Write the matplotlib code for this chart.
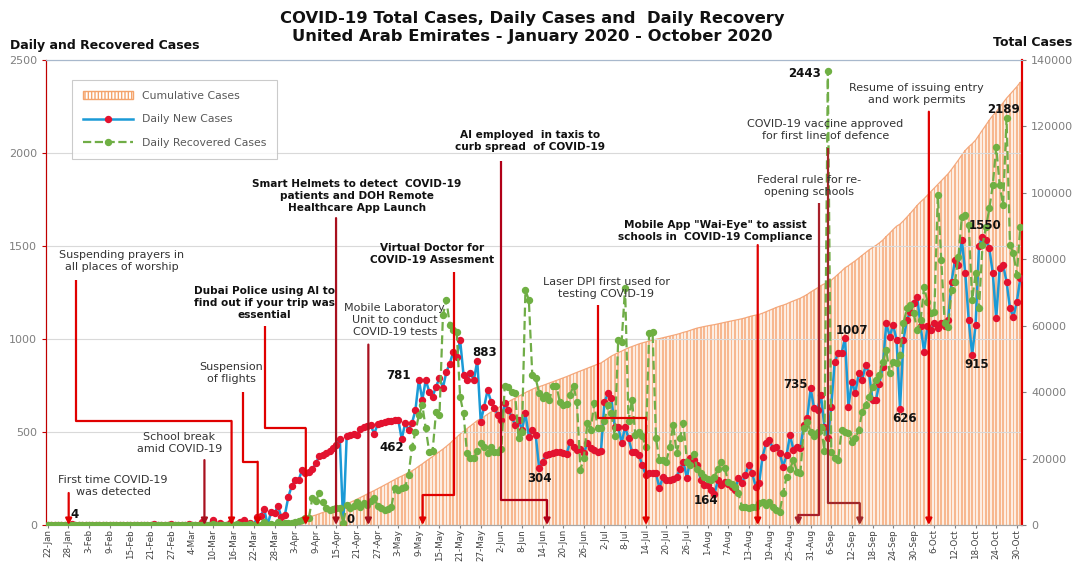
import numpy as np
import pandas as pd
import matplotlib
matplotlib.use("Agg")
import matplotlib.pyplot as plt
from matplotlib.patches import Patch
from matplotlib.lines import Line2D

# daily new cases, 22-Jan .. 31-Oct 2020 (one list per month)
new_jan = [0, 0, 0, 0, 0, 0, 0, 4, 0, 1]
new_feb = [0, 0, 0, 0, 0, 0, 0, 2, 0, 1, 0, 0, 0, 0, 1, 0, 0, 0, 0, 0,
           0, 4, 0, 0, 0, 0, 6, 0, 2]
new_mar = [0, 0, 6, 0, 0, 0, 16, 0, 0, 29, 0, 11, 0, 0, 13, 0, 0, 15, 27, 0,
           13, 0, 45, 50, 85, 0, 72, 63, 102, 41, 53]
new_apr = [150, 210, 240, 241, 294, 277, 283, 300, 331, 370, 376, 387, 398, 412, 432,
           460, 0, 479, 484, 490, 483, 518, 525, 532, 536, 490, 541, 549, 552, 557]
new_may = [561, 564, 567, 462, 546, 511, 548, 618, 781, 672, 780, 717, 690, 744, 790,
           737, 823, 868, 932, 905, 994, 806, 780, 816, 780, 883, 556, 636, 726, 663, 627]
new_jun = [591, 564, 654, 618, 582, 538, 565, 511, 600, 475, 511, 484, 304, 340, 376,
           380, 388, 390, 392, 388, 382, 448, 421, 403, 410, 385, 439, 412, 405, 394]
new_jul = [400, 662, 707, 681, 529, 529, 439, 529, 466, 394, 394, 376, 323, 269, 278,
           278, 278, 197, 260, 242, 242, 245, 260, 300, 340, 251, 358, 350, 323, 242, 215]
new_aug = [215, 188, 164, 242, 215, 233, 220, 206, 188, 251, 224, 270, 323, 278, 206,
           224, 367, 439, 457, 412, 421, 385, 314, 376, 484, 403, 421, 412, 538, 573, 735]
new_sep = [627, 618, 699, 528, 466, 636, 878, 923, 923, 1007, 636, 771, 708, 816, 780,
           860, 816, 672, 672, 760, 851, 1085, 1013, 1076, 995, 626, 995, 1102, 1147, 1192]
new_oct = [1228, 1068, 932, 1068, 1049, 1085, 1058, 1085, 1068, 1100, 1308, 1425, 1398,
           1533, 1353, 1100, 915, 1076, 1500, 1550, 1530, 1487, 1353, 1111, 1380, 1398,
           1308, 1165, 1120, 1200, 1326]

# daily recovered cases
rec_jan = [0] * 10
rec_feb = [0, 0, 0, 0, 0, 0, 0, 0, 1, 0, 0, 0, 0, 0, 2, 0, 0, 0, 0, 0,
           0, 0, 0, 0, 0, 0, 0, 0, 0]
rec_mar = [0, 0, 0, 0, 0, 0, 0, 0, 0, 3, 0, 0, 0, 2, 0, 0, 5, 0, 0, 0,
           7, 0, 0, 0, 15, 0, 6, 0, 14, 5, 10]
rec_apr = [10, 12, 15, 20, 25, 35, 40, 145, 129, 170, 124, 91, 81, 85, 91,
           90, 11, 107, 91, 100, 124, 97, 118, 110, 130, 145, 100, 90, 81, 88]
rec_may = [97, 199, 188, 199, 204, 270, 420, 500, 591, 645, 520, 394, 400, 609, 591,
           1129, 1210, 1075, 1048, 1040, 690, 600, 385, 358, 358, 400, 440, 421, 385, 421, 394]
rec_jun = [394, 410, 749, 740, 717, 708, 466, 502, 1263, 1210, 807, 788, 708, 681, 700,
           672, 749, 749, 663, 645, 650, 700, 749, 660, 296, 358, 547, 511, 654, 520]
rec_jul = [520, 560, 645, 600, 480, 995, 986, 1274, 559, 672, 484, 500, 478, 420, 1030,
           1039, 466, 349, 349, 340, 420, 540, 385, 470, 547, 340, 323, 380, 300, 278, 260]
rec_aug = [250, 242, 260, 300, 340, 305, 233, 220, 206, 170, 98, 95, 89, 95, 98,
           116, 125, 107, 125, 98, 80, 72, 170, 260, 300, 350, 287, 278, 519, 556, 500]
rec_sep = [480, 500, 528, 400, 2443, 394, 358, 349, 511, 502, 493, 448, 466, 511, 609,
           645, 690, 740, 780, 806, 878, 941, 816, 878, 869, 914, 1084, 1164, 1182, 1138]
rec_oct = [1048, 1100, 1281, 1200, 1138, 1147, 1774, 1425, 1084, 1066, 1263, 1308, 1443,
           1658, 1667, 1613, 1210, 1353, 1165, 1505, 1600, 1702, 1828, 2033, 1828, 1720,
           2189, 1505, 1461, 1344, 1604]

new_cases = np.array(new_jan + new_feb + new_mar + new_apr + new_may + new_jun
                     + new_jul + new_aug + new_sep + new_oct)
recovered = np.array(rec_jan + rec_feb + rec_mar + rec_apr + rec_may + rec_jun
                     + rec_jul + rec_aug + rec_sep + rec_oct)
total_cases = np.cumsum(new_cases)

days = np.arange(len(new_cases))
dates = pd.date_range("2020-01-22", periods=len(days), freq="D")
tick_pos = days[::6]
tick_labels = [f"{d.day}-{d:%b}" for d in dates[::6]]

# (text, bold, text x, text y, path of the red pointer, colour)
events = [
    ("First time COVID-19\nwas detected", False, 19, 210, [(6.1, 172), (6.1, 0)], "#e00000"),
    ("School break\namid COVID-19", False, 38.3, 441, [(45.6, 349), (45.6, 0)], "#a8101e"),
    ("Suspending prayers in\nall places of worship", False, 21.5, 1417,
     [(8.3, 1317), (8.3, 559), (53.5, 559), (53.5, 0)], "#e00000"),
    ("Suspension\nof flights", False, 53.4, 817,
     [(56.7, 717), (56.7, 340), (61.1, 340), (61.1, 0)], "#e00000"),
    ("Dubai Police using AI to\nfind out if your trip was\nessential", True, 63, 1191,
     [(63.3, 1070), (63.3, 520), (75.1, 520), (75.1, 0)], "#e00000"),
    ("Smart Helmets to detect  COVID-19\npatients and DOH Remote\nHealthcare App Launch", True,
     90, 1769, [(83.9, 1650), (83.9, 0)], "#a8101e"),
    ("Mobile Laboratory\nUnit to conduct\nCOVID-19 tests", False, 101, 1102,
     [(93.3, 970), (93.3, 0)], "#a8101e"),
    ("Virtual Doctor for\nCOVID-19 Assesment", True, 111.8, 1457,
     [(118.2, 1362), (118.2, 161), (109.1, 161), (109.1, 0)], "#e00000"),
    ("AI employed  in taxis to\ncurb spread  of COVID-19", True, 140.3, 2063,
     [(132, 1958), (132, 134), (145.3, 134), (145.3, 0)], "#b00018"),
    ("Laser DPI first used for\ntesting COVID-19", False, 162.5, 1274,
     [(160.1, 1183), (160.1, 577), (174.1, 577), (174.1, 0)], "#e00000"),
    ("Mobile App \"Wai-Eye\" to assist\nschools in  COVID-19 Compliance", True, 194.2, 1581,
     [(206.6, 1505), (206.6, 0)], "#e00000"),
    ("Federal rule for re-\nopening schools", False, 221.6, 1823,
     [(224.4, 1731), (224.4, 54), (218.4, 54), (218.4, 0)], "#a8202a"),
    ("COVID-19 vaccine approved\nfor first line of defence", False, 226.3, 2122,
     [(227.1, 2025), (227.1, 117), (236.3, 117), (236.3, 0)], "#a0282a"),
    ("Resume of issuing entry\nand work permits", False, 252.8, 2319,
     [(256.4, 2222), (256.4, 0)], "#e00000"),
]

# value labels: (day index, offset in points)
new_labels = [(7, (2, 7)), (86, (5, 4)), (103, (-7, -6)), (108, (-15, 3)), (125, (5, 6)),
              (143, (0, -7)), (194, (-6, -4)), (222, (-11, 3)), (232, (5, 5)),
              (248, (3, -7)), (269, (3, -7)), (272, (2, 8))]
rec_labels = [(227, (-17, -2)), (279, (-2, 6))]

plt.rcParams["hatch.linewidth"] = 1.0
fig = plt.figure(figsize=(10.81, 5.64), dpi=100)
ax1 = fig.add_axes([46 / 1081, 39 / 564, 976 / 1081, 465 / 564])
ax2 = ax1.twinx()
ax1.set_zorder(ax2.get_zorder() + 1)
ax1.patch.set_visible(False)

# cumulative cases as striped columns on the right axis
ax2.fill_between(days, total_cases, color="#fdeee3", linewidth=0, zorder=0)
ax2.bar(days, total_cases, width=0.5, color="#f7b890", linewidth=0, zorder=1)
ax2.plot(days, total_cases, color="#f4a77a", lw=0.9, zorder=2)
ax2.set_ylim(0, 140000)
ax2.set_yticks(range(0, 140001, 20000))
ax2.tick_params(axis="y", labelsize=8, labelcolor="#7f7f7f", color="#7f7f7f", length=3)

ax1.plot(days, new_cases, "-o", color="#1b9ad6", lw=1.8, ms=4.3,
         mfc="#e3122f", mec="#e3122f", zorder=3)
ax1.plot(days, recovered, "--o", color="#70ad47", lw=1.6, ms=4.3, dashes=(4, 2),
         mfc="#6fb043", mec="#6fb043", zorder=3)

for text, bold, tx, ty, path, col in events:
    xs, ys = zip(*path)
    ax1.plot(xs[:-1], ys[:-1], color=col, lw=1.6, zorder=4, solid_capstyle="butt")
    ax1.annotate("", xy=path[-1], xytext=path[-2],
                 arrowprops=dict(arrowstyle="-|>", color=col, lw=1.6,
                                 mutation_scale=9, shrinkA=0, shrinkB=0), zorder=4)
    ax1.text(tx, ty, text, ha="center", va="center", fontsize=7.6 if bold else 8,
             fontweight="bold" if bold else "normal",
             color="#111111" if bold else "#333333", linespacing=1.25, zorder=5)

for i, off in new_labels:
    ax1.annotate(str(new_cases[i]), xy=(i, new_cases[i]), xytext=off,
                 textcoords="offset points", ha="center", va="center",
                 fontsize=8.5, fontweight="bold", color="#111111", zorder=6)
for i, off in rec_labels:
    ax1.annotate(str(recovered[i]), xy=(i, recovered[i]), xytext=off,
                 textcoords="offset points", ha="center", va="center",
                 fontsize=8.5, fontweight="bold", color="#111111", zorder=6)

ax1.set_xlim(-0.5, len(days) - 0.5)
ax1.set_ylim(0, 2500)
ax1.set_yticks(range(0, 2501, 500))
ax1.set_xticks(tick_pos)
ax1.set_xticklabels(tick_labels, rotation=90, fontsize=6.3, color="#404040")
ax1.tick_params(axis="y", labelsize=8, labelcolor="#7f7f7f", color="#c00000", length=3)
ax1.tick_params(axis="x", length=2, pad=1, color="#7f7f7f")
ax1.grid(axis="y", color="#d9d9d9", lw=0.8)
ax1.set_axisbelow(True)
for ax in (ax1, ax2):
    ax.spines["left"].set_color("#c00000")
    ax.spines["right"].set_color("#e00000")
    ax.spines["right"].set_linewidth(1.5)
    ax.spines["top"].set_color("#a8b8cc")
    ax.spines["bottom"].set_color("#a6a6a6")

handles = [Patch(facecolor="white", edgecolor="#f4a46c", hatch="|||||"),
           Line2D([], [], color="#1b9ad6", lw=1.8, marker="o", ms=4.3,
                  mfc="#e3122f", mec="#e3122f"),
           Line2D([], [], color="#70ad47", lw=1.6, ls="--", marker="o", ms=4.3,
                  mfc="#6fb043", mec="#6fb043")]
leg = ax1.legend(handles, ["Cumulative Cases", "Daily New Cases", "Daily Recovered Cases"],
                 loc="upper left", bbox_to_anchor=(0.027, 0.957), fontsize=7.8,
                 labelcolor="#595959", frameon=True, fancybox=False, edgecolor="#bfbfbf",
                 handlelength=4.6, labelspacing=1.25, borderpad=1.0, numpoints=1,
                 borderaxespad=0)
leg.get_frame().set_linewidth(0.8)
leg.set_zorder(7)

fig.text(0.492, 0.952, "COVID-19 Total Cases, Daily Cases and  Daily Recovery\n"
         "United Arab Emirates - January 2020 - October 2020",
         ha="center", va="center", fontsize=11.8, fontweight="bold", color="#111111",
         linespacing=1.25)
fig.text(10 / 1081, 1 - 45 / 564, "Daily and Recovered Cases", ha="left", va="center",
         fontsize=9, fontweight="bold", color="#111111")
fig.text(1072 / 1081, 1 - 43 / 564, "Total Cases", ha="right", va="center",
         fontsize=9, fontweight="bold", color="#111111")

fig.savefig("out.png", dpi=100)
